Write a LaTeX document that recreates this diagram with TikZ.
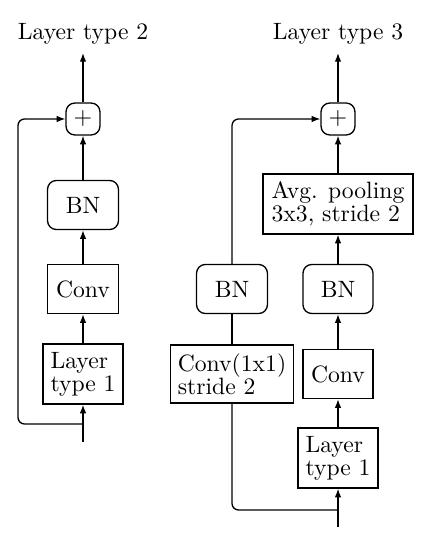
\documentclass[tikz,border=0pt]{standalone}
\usetikzlibrary{arrows.meta}
\begin{document}
\begin{tikzpicture}[x=0.457pt,y=-0.457pt, line width=0.6pt,
  >={Latex[length=4pt,width=3pt]},
  every node/.style={font=\fontsize{10.8}{10.4}\selectfont},
  blk/.style={draw, inner sep=2pt, align=left},
  rbox/.style={blk, rounded corners=4pt},
  bnbox/.style={rbox, minimum width=32.4pt, minimum height=22.4pt},
  convbox/.style={blk, minimum width=32.4pt, minimum height=22.4pt},
  ltbox/.style={blk, minimum width=36.6pt, minimum height=27.4pt},
  plusbox/.style={rbox, inner sep=0pt, minimum width=15.5pt, minimum height=14.6pt},
  skip/.style={rounded corners=3pt}]
\useasboundingbox (0,0) rectangle (433,539);
% ---- left: layer type 2
\node (t2) at (83,34) {Layer type 2};
\coordinate (top1) at (83,53);
\node[plusbox] (p1) at (83,119) {$+$};
\node[bnbox] (bn1) at (83,205) {BN};
\node[convbox] (cv1) at (83,289) {Conv};
\node[ltbox] (la) at (83,374) {Layer\\type 1};
\coordinate (in1) at (83,442);
\coordinate (b1) at (83,424);
\coordinate (k1) at (18,424);
\coordinate (k2) at (18,119);
\draw[->] (in1) -- (la);
\draw[->] (la) -- (cv1);
\draw[->] (cv1) -- (bn1);
\draw[->] (bn1) -- (p1);
\draw[->] (p1) -- (top1);
\draw[->, skip] (b1) -- (k1) -- (k2) -- (p1.west);
% ---- right: layer type 3
\node (t3) at (338,34) {Layer type 3};
\coordinate (top2) at (338,53);
\node[plusbox] (p2) at (338,119) {$+$};
\node[blk, minimum width=68.6pt, minimum height=27.4pt] (avg) at (338,204) {Avg. pooling\\3x3, stride 2};
\node[bnbox, minimum width=32pt] (bnr) at (338,289) {BN};
\node[bnbox] (bnl) at (232,289) {BN};
\node[blk, minimum width=56.2pt, minimum height=26.5pt] (c11) at (232,374) {Conv(1x1)\\stride 2};
\node[convbox, minimum width=32pt] (cv2) at (338,374) {Conv};
\node[ltbox] (lb) at (338,458) {Layer\\type 1};
\coordinate (in2) at (338,527);
\coordinate (b2) at (338,510);
\draw[->] (in2) -- (lb);
\draw[->] (lb) -- (cv2);
\draw[->] (cv2) -- (bnr);
\draw[->] (bnr) -- (avg);
\draw[->] (avg) -- (p2);
\draw[->] (p2) -- (top2);
\draw[skip] (b2) -| (c11.south);
\draw (c11) -- (bnl);
\draw[->, skip] (bnl.north) |- (p2.west);
\end{tikzpicture}
\end{document}
